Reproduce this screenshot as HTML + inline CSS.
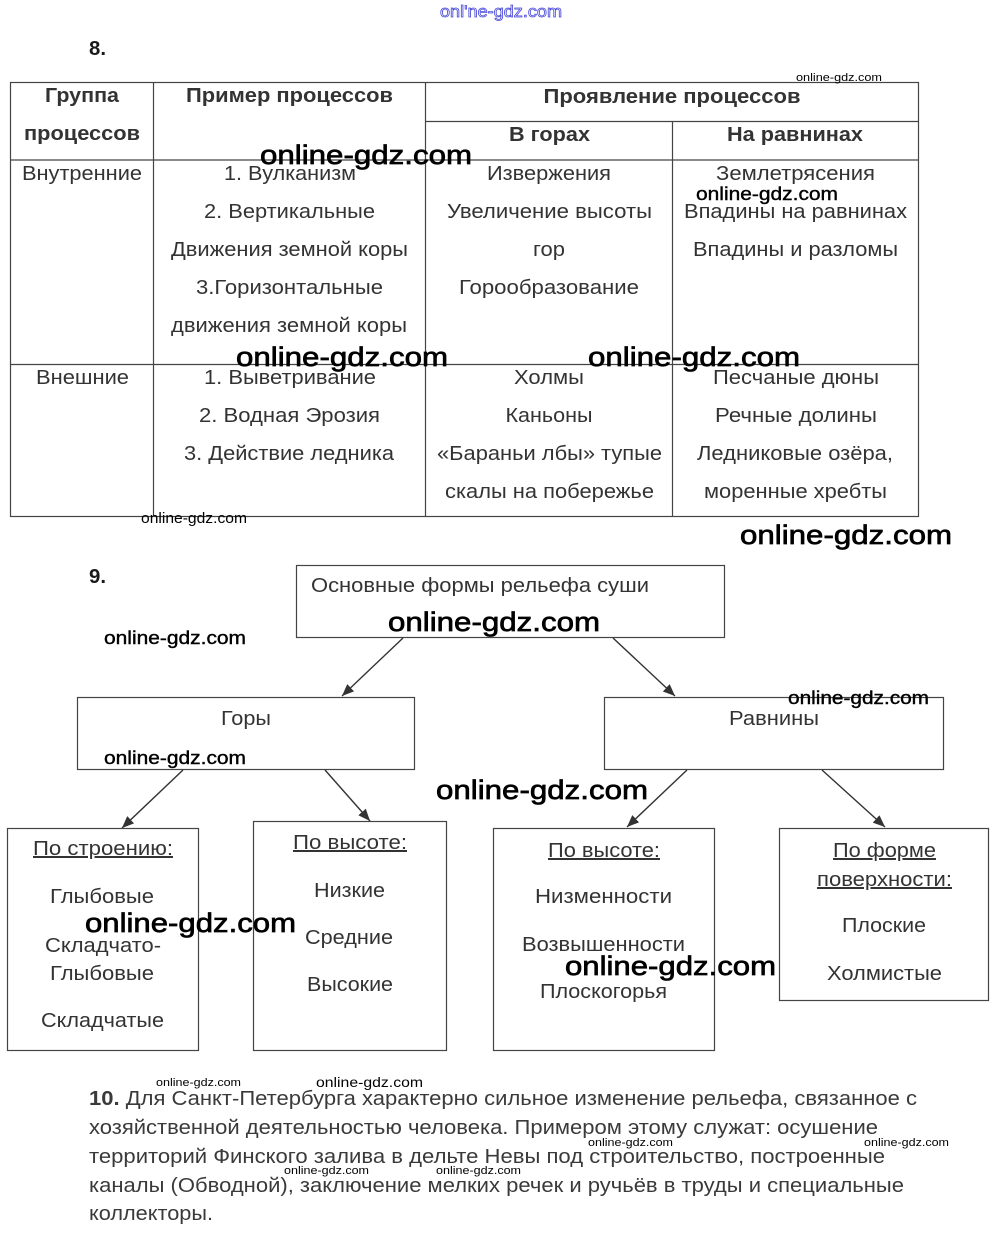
<!DOCTYPE html>
<html><head><meta charset="utf-8"><style>
html,body{margin:0;padding:0;background:#fff;}
svg{display:block;}
.t{font-family:"Liberation Sans",Arial,sans-serif;font-size:20px;fill:#333;}
.b{font-weight:bold;}
.w{font-family:"Liberation Sans",Arial,sans-serif;fill:#000;}
</style></head><body>
<svg width="1000" height="1243" viewBox="0 0 1000 1243" xmlns="http://www.w3.org/2000/svg">
<defs>
<marker id="ah" markerUnits="userSpaceOnUse" markerWidth="14" markerHeight="12" refX="12" refY="5" orient="auto">
<path d="M0,0 L12,5 L0,10 Z" fill="#333"/>
</marker>
</defs>
<rect width="1000" height="1243" fill="#fff"/>

<!-- top logo -->
<text x="440" y="17" font-family="Liberation Sans, sans-serif" font-size="17" fill="#fff" stroke="#4a4ad8" stroke-width="0.8" textLength="122" lengthAdjust="spacingAndGlyphs">onl'ne-gdz.com</text>

<!-- 8. -->
<text x="89" y="55" class="t b" style="fill:#1a1a1a" textLength="17" lengthAdjust="spacingAndGlyphs">8.</text>

<!-- TABLE -->
<g stroke="#444" stroke-width="1.2" fill="none">
<rect x="10.5" y="82.5" width="908" height="434"/>
<line x1="153.5" y1="82" x2="153.5" y2="516"/>
<line x1="425.5" y1="82" x2="425.5" y2="516"/>
<line x1="672.5" y1="121" x2="672.5" y2="516"/>
<line x1="425" y1="121.5" x2="918" y2="121.5"/>
<line x1="10" y1="160" x2="918" y2="160"/>
<line x1="10" y1="364.5" x2="918" y2="364.5"/>
</g>

<g class="t" text-anchor="middle">
<text x="82" y="102" class="t b" textLength="74" lengthAdjust="spacingAndGlyphs">Группа</text>
<text x="82" y="140" class="t b" textLength="116" lengthAdjust="spacingAndGlyphs">процессов</text>
<text x="289.5" y="102" class="t b" textLength="207" lengthAdjust="spacingAndGlyphs">Пример процессов</text>
<text x="672" y="103" class="t b" textLength="257" lengthAdjust="spacingAndGlyphs">Проявление процессов</text>
<text x="549.5" y="141" class="t b" textLength="81" lengthAdjust="spacingAndGlyphs">В горах</text>
<text x="795" y="141" class="t b" textLength="136" lengthAdjust="spacingAndGlyphs">На равнинах</text>

<text x="82" y="180" textLength="120" lengthAdjust="spacingAndGlyphs">Внутренние</text>
<text x="290" y="180" textLength="132" lengthAdjust="spacingAndGlyphs">1. Вулканизм</text>
<text x="289.5" y="218" textLength="171" lengthAdjust="spacingAndGlyphs">2. Вертикальные</text>
<text x="289.5" y="256" textLength="237" lengthAdjust="spacingAndGlyphs">Движения земной коры</text>
<text x="289.5" y="294" textLength="187" lengthAdjust="spacingAndGlyphs">3.Горизонтальные</text>
<text x="289" y="332" textLength="236" lengthAdjust="spacingAndGlyphs">движения земной коры</text>
<text x="549" y="180" textLength="124" lengthAdjust="spacingAndGlyphs">Извержения</text>
<text x="549.5" y="218" textLength="205" lengthAdjust="spacingAndGlyphs">Увеличение высоты</text>
<text x="549" y="256" textLength="32" lengthAdjust="spacingAndGlyphs">гор</text>
<text x="549" y="294" textLength="180" lengthAdjust="spacingAndGlyphs">Горообразование</text>
<text x="795.5" y="180" textLength="159" lengthAdjust="spacingAndGlyphs">Землетрясения</text>
<text x="795.5" y="218" textLength="223" lengthAdjust="spacingAndGlyphs">Впадины на равнинах</text>
<text x="795.5" y="256" textLength="205" lengthAdjust="spacingAndGlyphs">Впадины и разломы</text>

<text x="82.5" y="384" textLength="93" lengthAdjust="spacingAndGlyphs">Внешние</text>
<text x="290" y="384" textLength="172" lengthAdjust="spacingAndGlyphs">1. Выветривание</text>
<text x="289.5" y="422" textLength="181" lengthAdjust="spacingAndGlyphs">2. Водная Эрозия</text>
<text x="289" y="460" textLength="210" lengthAdjust="spacingAndGlyphs">3. Действие ледника</text>
<text x="549" y="384" textLength="70" lengthAdjust="spacingAndGlyphs">Холмы</text>
<text x="549" y="422" textLength="87" lengthAdjust="spacingAndGlyphs">Каньоны</text>
<text x="549.5" y="460" textLength="225" lengthAdjust="spacingAndGlyphs">«Бараньи лбы» тупые</text>
<text x="549.5" y="498" textLength="209" lengthAdjust="spacingAndGlyphs">скалы на побережье</text>
<text x="796" y="384" textLength="166" lengthAdjust="spacingAndGlyphs">Песчаные дюны</text>
<text x="796" y="422" textLength="162" lengthAdjust="spacingAndGlyphs">Речные долины</text>
<text x="795" y="460" textLength="196" lengthAdjust="spacingAndGlyphs">Ледниковые озёра,</text>
<text x="795.5" y="498" textLength="183" lengthAdjust="spacingAndGlyphs">моренные хребты</text>
</g>

<!-- 9. -->
<text x="89" y="583" class="t b" style="fill:#1a1a1a" textLength="17" lengthAdjust="spacingAndGlyphs">9.</text>

<!-- DIAGRAM boxes -->
<g stroke="#444" stroke-width="1.2" fill="none">
<rect x="296.5" y="565.5" width="428" height="72"/>
<rect x="77.5" y="697.5" width="337" height="72"/>
<rect x="604.5" y="697.5" width="339" height="72"/>
<rect x="7.5" y="828.5" width="191" height="222"/>
<rect x="253.5" y="821.5" width="193" height="229"/>
<rect x="493.5" y="828.5" width="221" height="222"/>
<rect x="779.5" y="828.5" width="209" height="172"/>
</g>

<!-- arrows -->
<g stroke="#333" stroke-width="1.4" fill="none" marker-end="url(#ah)">
<line x1="403" y1="638" x2="342" y2="696"/>
<line x1="613" y1="638" x2="675" y2="696"/>
<line x1="183" y1="770" x2="122" y2="828"/>
<line x1="325" y1="770" x2="370" y2="821"/>
<line x1="687" y1="770" x2="627" y2="827"/>
<line x1="822" y1="770" x2="885" y2="827"/>
</g>

<g class="t">
<text x="311" y="592" textLength="338" lengthAdjust="spacingAndGlyphs">Основные формы рельефа суши</text>
</g>
<g class="t" text-anchor="middle">
<text x="246" y="725" textLength="50" lengthAdjust="spacingAndGlyphs">Горы</text>
<text x="774" y="725" textLength="90" lengthAdjust="spacingAndGlyphs">Равнины</text>

<text x="103" y="855" text-decoration="underline" textLength="140" lengthAdjust="spacingAndGlyphs">По строению:</text>
<text x="102" y="903" textLength="104" lengthAdjust="spacingAndGlyphs">Глыбовые</text>
<text x="103" y="952" textLength="116" lengthAdjust="spacingAndGlyphs">Складчато-</text>
<text x="102" y="980" textLength="104" lengthAdjust="spacingAndGlyphs">Глыбовые</text>
<text x="102.5" y="1027" textLength="123" lengthAdjust="spacingAndGlyphs">Складчатые</text>

<text x="350" y="849" text-decoration="underline" textLength="114" lengthAdjust="spacingAndGlyphs">По высоте:</text>
<text x="349.5" y="897" textLength="71" lengthAdjust="spacingAndGlyphs">Низкие</text>
<text x="349" y="944" textLength="88" lengthAdjust="spacingAndGlyphs">Средние</text>
<text x="350" y="991" textLength="86" lengthAdjust="spacingAndGlyphs">Высокие</text>

<text x="604" y="857" text-decoration="underline" textLength="112" lengthAdjust="spacingAndGlyphs">По высоте:</text>
<text x="603.5" y="903" textLength="137" lengthAdjust="spacingAndGlyphs">Низменности</text>
<text x="603.5" y="951" textLength="163" lengthAdjust="spacingAndGlyphs">Возвышенности</text>
<text x="603.5" y="998" textLength="127" lengthAdjust="spacingAndGlyphs">Плоскогорья</text>

<text x="884.5" y="857" text-decoration="underline" textLength="103" lengthAdjust="spacingAndGlyphs">По форме</text>
<text x="884.5" y="886" text-decoration="underline" textLength="135" lengthAdjust="spacingAndGlyphs">поверхности:</text>
<text x="884" y="932" textLength="84" lengthAdjust="spacingAndGlyphs">Плоские</text>
<text x="884.5" y="980" textLength="115" lengthAdjust="spacingAndGlyphs">Холмистые</text>
</g>

<!-- Section 10 -->
<g class="t" style="fill:#3a3a3a">
<text x="89" y="1105" textLength="828" lengthAdjust="spacingAndGlyphs"><tspan font-weight="bold">10.</tspan> Для Санкт-Петербурга характерно сильное изменение рельефа, связанное с</text>
<text x="89" y="1134" textLength="789" lengthAdjust="spacingAndGlyphs">хозяйственной деятельностью человека. Примером этому служат: осушение</text>
<text x="89" y="1163" textLength="796" lengthAdjust="spacingAndGlyphs">территорий Финского залива в дельте Невы под строительство, построенные</text>
<text x="89" y="1192" textLength="815" lengthAdjust="spacingAndGlyphs">каналы (Обводной), заключение мелких речек и ручьёв в труды и специальные</text>
<text x="89" y="1220" textLength="124" lengthAdjust="spacingAndGlyphs">коллекторы.</text>
</g>

<!-- watermarks -->
<g class="w">
<text x="796" y="81" font-size="11" textLength="86" lengthAdjust="spacingAndGlyphs">online-gdz.com</text>
<g stroke="#000" stroke-width="0.7">
<text x="260" y="164" font-size="27" textLength="212" lengthAdjust="spacingAndGlyphs">online-gdz.com</text>
<text x="236" y="366" font-size="27" textLength="212" lengthAdjust="spacingAndGlyphs">online-gdz.com</text>
<text x="588" y="366" font-size="27" textLength="212" lengthAdjust="spacingAndGlyphs">online-gdz.com</text>
<text x="740" y="544" font-size="27" textLength="212" lengthAdjust="spacingAndGlyphs">online-gdz.com</text>
<text x="388" y="631" font-size="27" textLength="212" lengthAdjust="spacingAndGlyphs">online-gdz.com</text>
<text x="436" y="799" font-size="27" textLength="212" lengthAdjust="spacingAndGlyphs">online-gdz.com</text>
<text x="85" y="932" font-size="27" textLength="211" lengthAdjust="spacingAndGlyphs">online-gdz.com</text>
<text x="565" y="975" font-size="27" textLength="211" lengthAdjust="spacingAndGlyphs">online-gdz.com</text>
</g>
<g stroke="#000" stroke-width="0.4">
<text x="696" y="200" font-size="18" textLength="142" lengthAdjust="spacingAndGlyphs">online-gdz.com</text>
<text x="104" y="644" font-size="18" textLength="142" lengthAdjust="spacingAndGlyphs">online-gdz.com</text>
<text x="788" y="704" font-size="18" textLength="141" lengthAdjust="spacingAndGlyphs">online-gdz.com</text>
<text x="104" y="764" font-size="18" textLength="142" lengthAdjust="spacingAndGlyphs">online-gdz.com</text>
</g>
<text x="141" y="523" font-size="15" textLength="106" lengthAdjust="spacingAndGlyphs">online-gdz.com</text>
<text x="156" y="1086" font-size="11" textLength="85" lengthAdjust="spacingAndGlyphs">online-gdz.com</text>
<text x="316" y="1087" font-size="14" textLength="107" lengthAdjust="spacingAndGlyphs">online-gdz.com</text>
<text x="588" y="1146" font-size="11" textLength="85" lengthAdjust="spacingAndGlyphs">online-gdz.com</text>
<text x="864" y="1146" font-size="11" textLength="85" lengthAdjust="spacingAndGlyphs">online-gdz.com</text>
<text x="284" y="1174" font-size="11" textLength="85" lengthAdjust="spacingAndGlyphs">online-gdz.com</text>
<text x="436" y="1174" font-size="11" textLength="85" lengthAdjust="spacingAndGlyphs">online-gdz.com</text>
</g>
</svg>
</body></html>
